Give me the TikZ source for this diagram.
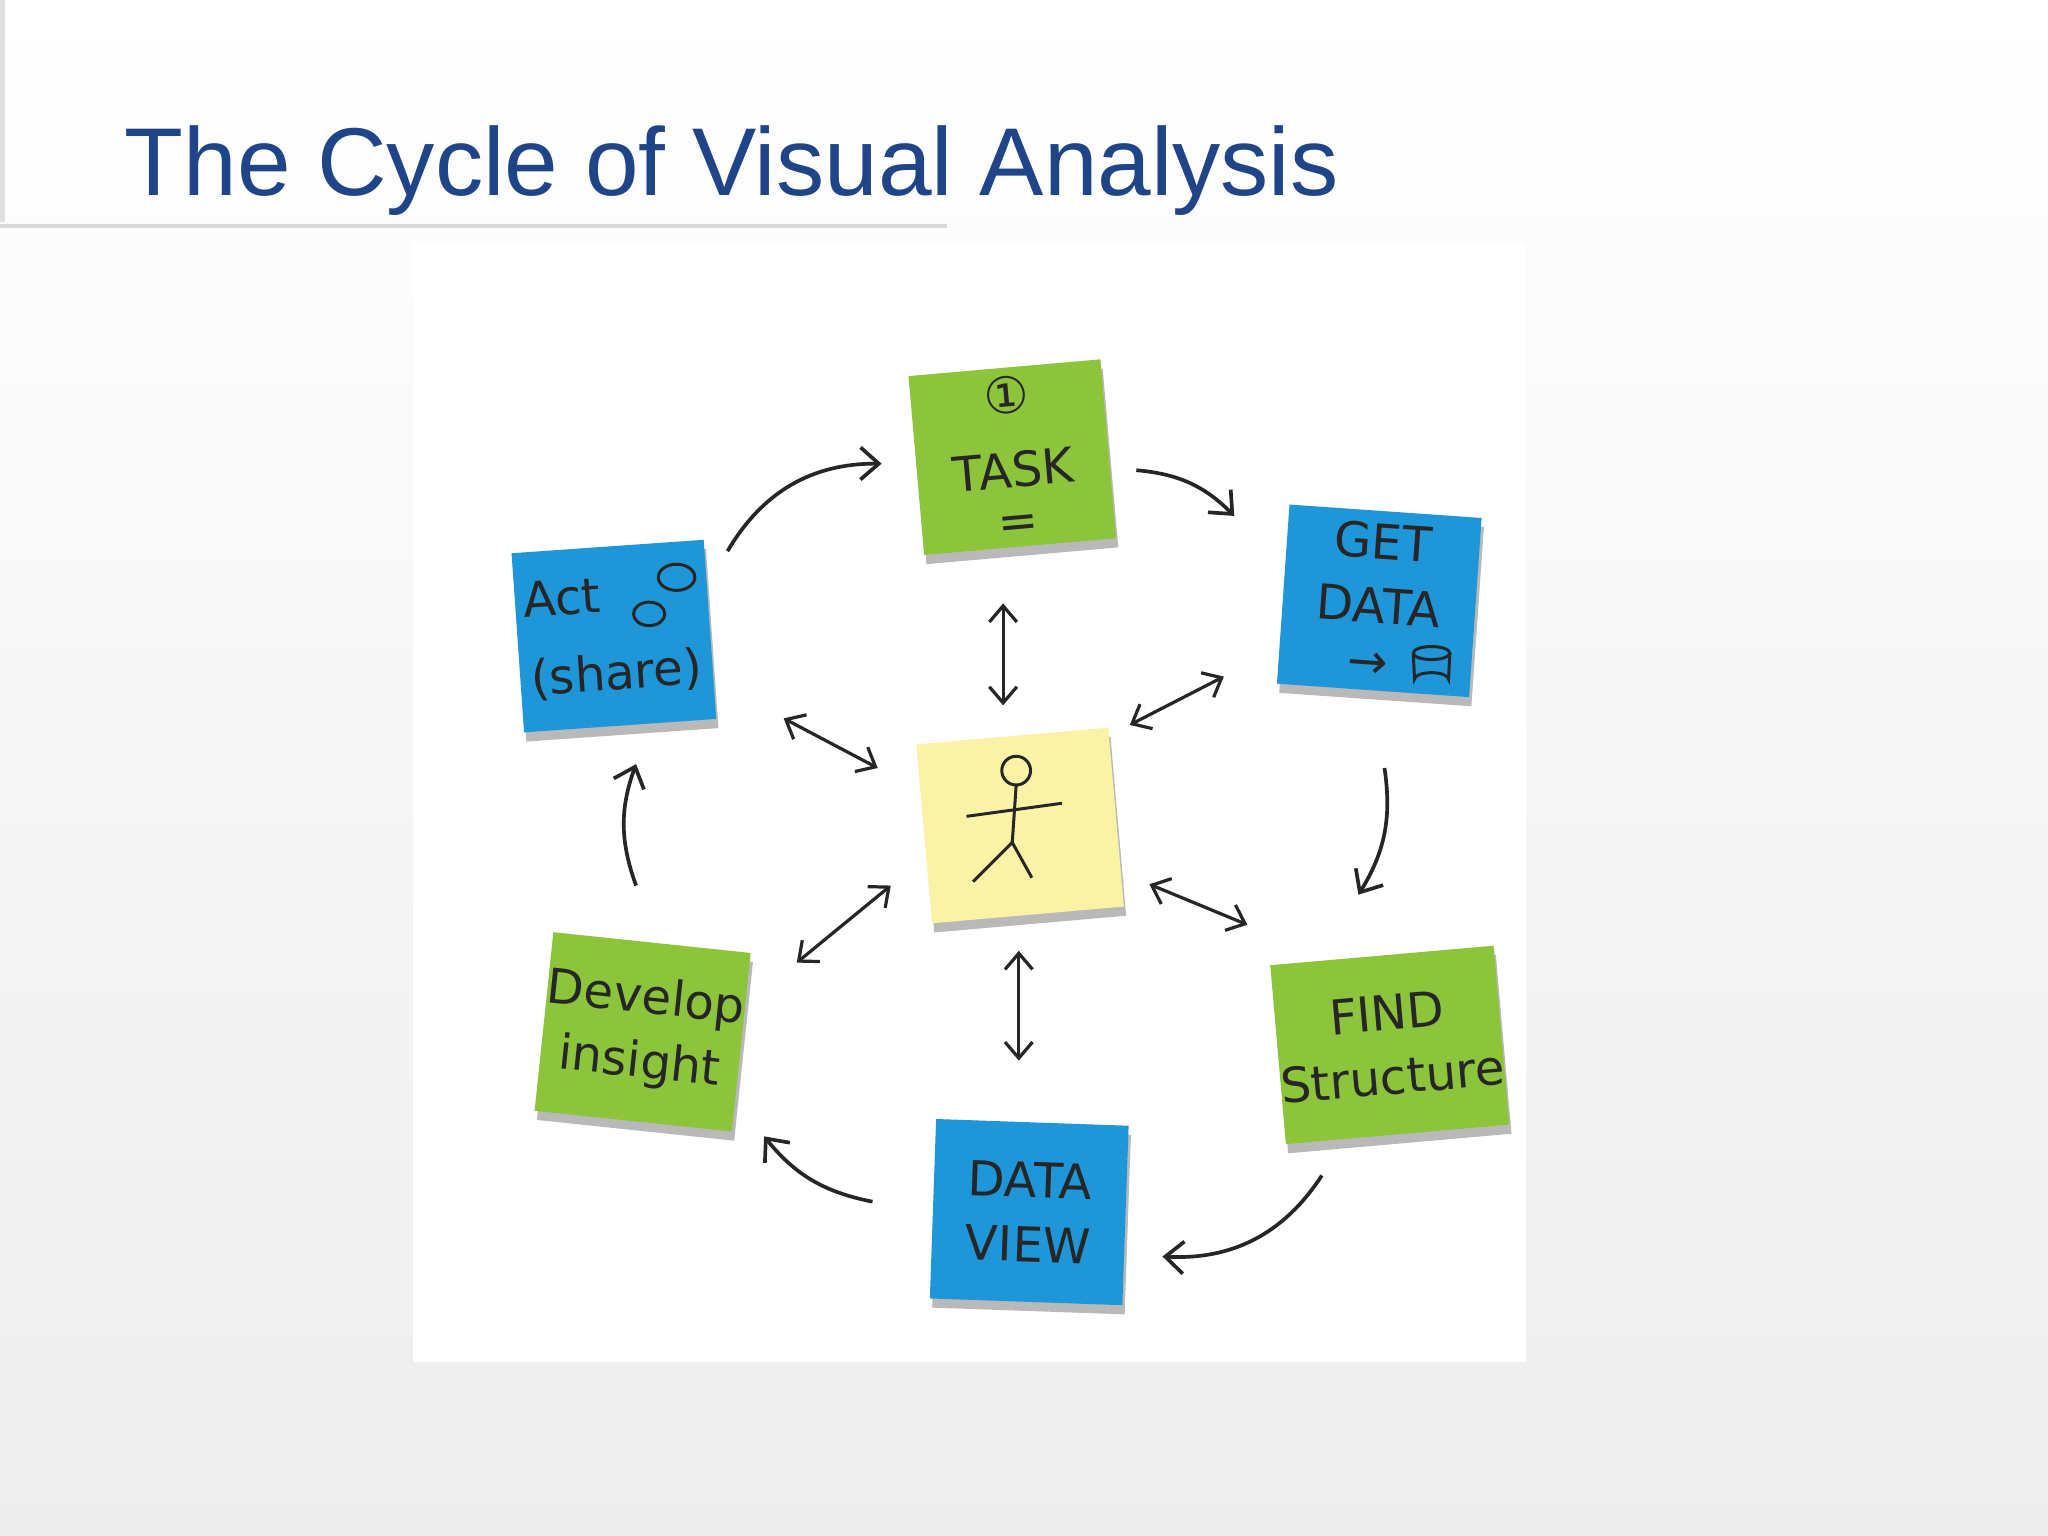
\documentclass[tikz,border=0pt]{standalone}
\usepackage{fontspec}
\setmainfont{Liberation Sans}
\newfontfamily\hand{DejaVu Sans}
\usetikzlibrary{arrows.meta,shadows}
\definecolor{ttl}{RGB}{31,68,135}
\definecolor{ngreen}{RGB}{140,196,60}
\definecolor{nblue}{RGB}{30,150,215}
\definecolor{nyellow}{RGB}{250,242,165}
\tikzset{
 note/.style={minimum width=2.95cm, minimum height=2.75cm, inner sep=0pt,
   drop shadow={shadow xshift=1pt,shadow yshift=-4pt,fill=black!50,opacity=.55},
   font=\hand\fontsize{21}{28}\selectfont, align=center, text=black!85},
 cyc/.style={-{Straight Barb[length=8pt,width=14pt]}, line width=1.6pt, black!85},
 dbl/.style={{Straight Barb[length=7pt,width=12pt]}-{Straight Barb[length=7pt,width=12pt]}, line width=1.4pt, black!85},
 pen/.style={line width=1.3pt, black!85}
}
\begin{document}
\begin{tikzpicture}[x=0.02cm,y=-0.02cm]
\path[use as bounding box, top color=white, bottom color=black!7] (0,0) rectangle (1568,1176);
\fill[white] (316,185) rectangle (1168,1043);
\draw[black!15, line width=2pt] (0,173) -- (725,173);
\draw[black!12, line width=2pt] (2,0) -- (2,170);
\node[anchor=base west, text=ttl, font=\fontsize{42}{50}\selectfont, inner sep=0] (title) at (95,150) {The Cycle of Visual Analysis};

\node[note, fill=ngreen, rotate=5] (task) at (775,350) {\fontsize{22}{22}\selectfont ①\\[4pt]TASK\\[-6pt]=};
\node[note, fill=nblue, rotate=-4] (get) at (1056,460) {GET\\DATA\\[-4pt]\hspace*{20pt}→\hspace*{26pt}};
\node[note, fill=nblue, rotate=4] (act) at (470,487) {Act\phantom{XXX}\\[6pt](share)};
\node[note, fill=nyellow, rotate=5] (me) at (781,632) {};
\node[note, fill=ngreen, rotate=-6] (dev) at (492,790) {Develop\\insight};
\node[note, fill=ngreen, rotate=5] (find) at (1064,800) {FIND\\Structure};
\node[note, fill=nblue, rotate=-2] (view) at (788,928) {DATA\\VIEW};

% cylinder, speech bubbles and stick figure
\draw[pen] (1082,500) -- (1083,520) arc[start angle=180,end angle=360,x radius=13,y radius=5] -- (1110,500);
\draw[pen] (1096,500) ellipse (14 and 5);
\draw[pen] (518,442) ellipse (14 and 10);
\draw[pen] (497,470) ellipse (12 and 9);
\draw[pen] (778,590) circle (11);
\draw[pen] (778,601) -- (775,645) -- (745,675);
\draw[pen] (775,645) -- (790,672);
\draw[pen] (740,625) -- (813,615);

\coordinate (a1) at (557,422); \coordinate (a2) at (675,355);
\coordinate (b1) at (870,360); \coordinate (b2) at (945,395);
\coordinate (c1) at (1060,588); \coordinate (c2) at (1040,685);
\coordinate (d1) at (1012,900); \coordinate (d2) at (890,962);
\coordinate (e1) at (668,920); \coordinate (e2) at (585,870);
\coordinate (f1) at (487,678); \coordinate (f2) at (487,585);
\draw[cyc] (a1) to[bend left=30] (a2);
\draw[cyc] (b1) to[bend left=20] (b2);
\draw[cyc] (c1) to[bend left=20] (c2);
\draw[cyc] (d1) to[bend left=30] (d2);
\draw[cyc] (e1) to[bend left=20] (e2);
\draw[cyc] (f1) to[bend left=20] (f2);

\coordinate (g1) at (768,462); \coordinate (g2) at (768,540);
\coordinate (h1) at (865,555); \coordinate (h2) at (937,518);
\coordinate (i1) at (600,550); \coordinate (i2) at (672,588);
\coordinate (j1) at (880,677); \coordinate (j2) at (955,708);
\coordinate (k1) at (610,737); \coordinate (k2) at (682,678);
\coordinate (l1) at (780,728); \coordinate (l2) at (780,812);
\foreach \p/\q in {g1/g2,h1/h2,i1/i2,j1/j2,k1/k2,l1/l2} \draw[dbl] (\p) -- (\q);
\end{tikzpicture}
\end{document}
